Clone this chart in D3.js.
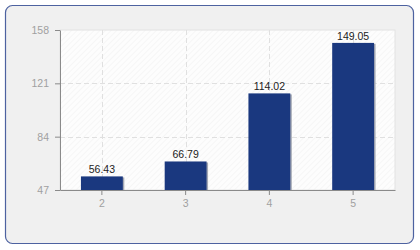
<!DOCTYPE html>
<html>
<head>
<meta charset="utf-8">
<script src="https://cdn.jsdelivr.net/npm/d3@7"></script>
<style>
  body { margin: 0; background: #fff; }
  svg { display: block; font-family: "Liberation Sans", Arial, sans-serif; }
</style>
</head>
<body>
<div id="chart"></div>
<script>
// Bar chart data
const categories = ['2', '3', '4', '5'];
const values = [56.43, 66.79, 114.02, 149.05];
const yTicks = [47, 84, 121, 158];

const W = 420, H = 250;
const margin = {top: 30, right: 25, bottom: 60, left: 60};
const width = W - margin.left - margin.right;
const height = H - margin.top - margin.bottom;

const svg = d3.select('#chart').append('svg')
    .attr('width', W)
    .attr('height', H);

// hatch pattern for plot background
const defs = svg.append('defs');
const pat = defs.append('pattern')
    .attr('id', 'hatch')
    .attr('patternUnits', 'userSpaceOnUse')
    .attr('width', 4)
    .attr('height', 4)
    .attr('patternTransform', 'rotate(45)');
pat.append('rect').attr('width', 4).attr('height', 4).attr('fill', '#fdfdfd');
pat.append('line').attr('x1', 0).attr('y1', 0).attr('x2', 0).attr('y2', 4)
    .attr('stroke', '#f0f0f0').attr('stroke-width', 1);

// outer frame
svg.append('rect')
    .attr('x', 5.5).attr('y', 5.5)
    .attr('width', 408).attr('height', 238)
    .attr('rx', 7)
    .attr('fill', '#f0f0f0')
    .attr('stroke', '#4d62a0')
    .attr('stroke-width', 1.2);

const g = svg.append('g')
    .attr('transform', `translate(${margin.left},${margin.top})`);

const x = d3.scaleBand()
    .domain(categories)
    .range([0, width])
    .paddingInner(0.5)
    .paddingOuter(0.25);

const y = d3.scaleLinear()
    .domain([yTicks[0], yTicks[yTicks.length - 1]])
    .range([height, 0]);

// plot background
g.append('rect')
    .attr('width', width)
    .attr('height', height)
    .attr('fill', 'url(#hatch)')
    .attr('stroke', '#e2e2e2');

// grid lines
g.selectAll('line.hgrid')
    .data(yTicks.slice(1, -1))
    .enter().append('line')
    .attr('class', 'hgrid')
    .attr('x1', 0).attr('x2', width)
    .attr('y1', d => Math.round(y(d)) + 0.5)
    .attr('y2', d => Math.round(y(d)) + 0.5)
    .attr('stroke', '#e0e0e0')
    .attr('stroke-dasharray', '5,3');

g.selectAll('line.vgrid')
    .data(categories)
    .enter().append('line')
    .attr('class', 'vgrid')
    .attr('x1', d => Math.round(x(d) + x.bandwidth() / 2) + 0.5)
    .attr('x2', d => Math.round(x(d) + x.bandwidth() / 2) + 0.5)
    .attr('y1', 0).attr('y2', height)
    .attr('stroke', '#e0e0e0')
    .attr('stroke-dasharray', '5,3');

// bar shadows
g.selectAll('rect.shadow')
    .data(values)
    .enter().append('rect')
    .attr('class', 'shadow')
    .attr('x', (d, i) => x(categories[i]) + 1.5)
    .attr('y', d => y(d) + 1)
    .attr('width', x.bandwidth())
    .attr('height', d => height - y(d) - 1)
    .attr('fill', '#a4a8b4');

// bars
g.selectAll('rect.bar')
    .data(values)
    .enter().append('rect')
    .attr('class', 'bar')
    .attr('x', (d, i) => x(categories[i]))
    .attr('y', d => y(d))
    .attr('width', x.bandwidth())
    .attr('height', d => height - y(d))
    .attr('fill', '#1a387f');

// value labels
g.selectAll('text.val')
    .data(values)
    .enter().append('text')
    .attr('class', 'val')
    .attr('x', (d, i) => x(categories[i]) + x.bandwidth() / 2)
    .attr('y', d => y(d) - 3)
    .attr('text-anchor', 'middle')
    .style('font-size', '10.5px')
    .style('fill', '#222')
    .text(d => d.toFixed(2));

// axes
const yAxis = g.append('g')
    .call(d3.axisLeft(y).tickValues(yTicks).tickSize(5).tickPadding(6).tickSizeOuter(0));
const xAxis = g.append('g')
    .attr('transform', `translate(0,${height})`)
    .call(d3.axisBottom(x).tickSize(5).tickPadding(5).tickSizeOuter(0));

[yAxis, xAxis].forEach(a => {
    a.select('.domain').attr('stroke', '#8a8a8a');
    a.selectAll('.tick line').attr('stroke', '#8a8a8a');
    a.selectAll('.tick text')
        .style('font-size', '10.5px')
        .style('font-family', '"Liberation Sans", Arial, sans-serif')
        .attr('fill', '#a0a0a0');
});
</script>
</body>
</html>
